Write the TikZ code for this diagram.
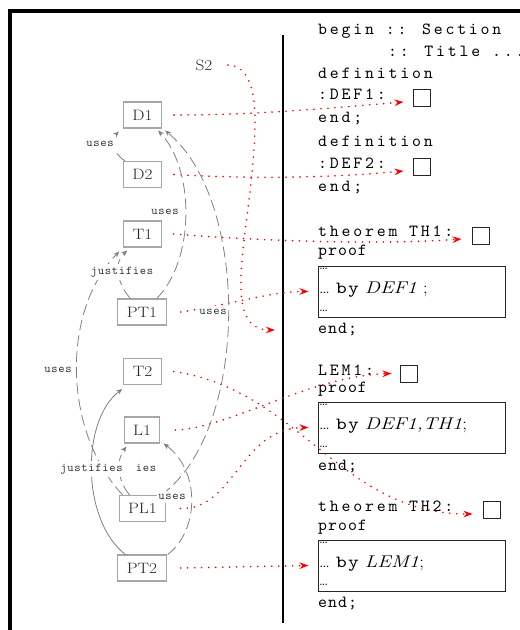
\documentclass[tikz,border=0pt]{standalone}
\usepackage{fontspec}
\usepackage{graphicx}
\usetikzlibrary{arrows.meta}
% spaced typewriter faces for the listing and the edge labels
\newfontfamily\hdfont{lmmono10-regular}[Extension=.otf,LetterSpace=16.5]
\newfontfamily\bdfont{lmmono10-regular}[Extension=.otf,LetterSpace=6]
\newfontfamily\lbfont{lmmono10-regular}[Extension=.otf,LetterSpace=6]
% slightly widened text
\newcommand\hwide[1]{\scalebox{1.15}[1]{#1}}
\newcommand\pwide[1]{\scalebox{1.2}[1]{#1}}
\newcommand\sdots{{\fontsize{14}{16}\selectfont\ldots}}

\begin{document}
\begin{tikzpicture}[x=1pt,y=-1pt,
  item/.style={draw=gray!70,line width=1.1pt,fill=white,text=black!85,
    font=\fontsize{15}{17}\selectfont,minimum height=26pt,inner xsep=9pt,inner ysep=0pt},
  code/.style={anchor=base west,inner sep=0pt,font=\hdfont\fontsize{17}{20}\selectfont},
  codebody/.style={anchor=base west,inner sep=0pt,font=\bdfont\fontsize{17}{20}\selectfont},
  inline/.style={anchor=base west,inner sep=0pt,font=\fontsize{17}{20}\selectfont},
  pbox/.style={draw=black!85,line width=0.9pt,minimum width=187pt,minimum height=51pt,inner sep=0pt},
  sq/.style={draw=black!85,line width=0.8pt,minimum size=17pt,inner sep=0pt},
  lab/.style={fill=white,inner xsep=1.5pt,inner ysep=3pt,text=black!80,
    font=\lbfont\fontsize{12}{14}\selectfont},
  rel/.style={draw=gray,line width=0.8pt,-{Stealth[length=6pt,width=5pt]}},
  reldashed/.style={rel,dash pattern=on 11pt off 5pt},
  refline/.style={draw=red,line width=1.8pt,dash pattern=on 0pt off 7pt,line cap=round,
    -{Stealth[length=9pt,width=6.5pt]}}]

\useasboundingbox (0,0) rectangle (520,630);

% outer frame and divider
\draw[line width=3.3pt] (10,645) -- (10,11) -- (535,11);
\coordinate (dtop) at (283,35);
\coordinate (dbot) at (283,623);
\draw[line width=2.2pt] (dtop) -- (dbot);

% dependency items
\node[item] (D1)  at (142.5,115)   {\hwide{D1}};
\node[item] (D2)  at (142.5,174.5) {\hwide{D2}};
\node[item] (T1)  at (142.5,234)   {\hwide{T1}};
\node[item] (PT1) at (142,312)     {\hwide{PT1}};
\node[item] (T2)  at (142.5,371.5) {\hwide{T2}};
\node[item] (L1)  at (142,430)     {\hwide{L1}};
\node[item] (PL1) at (142.5,508.5) {\hwide{PL1}};
\node[item] (PT2) at (142,568)     {\hwide{PT2}};
\node[font=\fontsize{15}{17}\selectfont,text=black!85] (S2) at (204,65) {\hwide{S2}};

% listing
\node[code] (c1) at (318,34) {begin :: Section};
\node[code] (c2) at (388,56) {:: Title ...};
\node[code] (c3) at (318,78) {definition};
\node[code] (c4) at (318,99) {:DEF1:};
\node[code] (c5) at (318,122) {end;};
\node[code] (c6) at (318,146) {definition};
\node[code] (c7) at (318,168) {:DEF2:};
\node[code] (c8) at (318,191) {end;};

\node[code] (c9) at (318,236) {theorem TH1:};
\node[codebody] (c10) at (318,255) {proof};
\node[pbox] (bx1) at (411.5,291.5) {};
\node[inline] (b1a) at (319,269) {\sdots};
\node[inline] (b1b) at (319,293) {\pwide{\sdots{} {\bdfont by} \textit{DEF1} ;}};
\node[inline] (b1c) at (319,311) {\sdots};
\node[codebody] (c11) at (318,333) {end;};

\node[code] (c12) at (318,375) {LEM1:};
\node[codebody] (c13) at (318,392) {proof};
\node[pbox] (bx2) at (411.5,427.5) {};
\node[inline] (b2a) at (319,405) {\sdots};
\node[inline] (b2b) at (319,429) {\pwide{\sdots{} {\bdfont by} \textit{DEF1,TH1};}};
\node[inline] (b2c) at (319,447) {\sdots};
\node[codebody] (c14) at (318,470) {end;};

\node[code] (c15) at (318,511) {theorem TH2:};
\node[codebody] (c16) at (318,530) {proof};
\node[pbox] (bx3) at (411.5,565.5) {};
\node[inline] (b3a) at (319,543) {\sdots};
\node[inline] (b3b) at (319,567) {\pwide{\sdots{} {\bdfont by} \textit{LEM1};}};
\node[inline] (b3c) at (319,585) {\sdots};
\node[codebody] (c17) at (318,607) {end;};

% check boxes
\node[sq] (q1) at (421.5,98) {};
\node[sq] (q2) at (421.5,167) {};
\node[sq] (q3) at (480.5,235.5) {};
\node[sq] (q4) at (409,373.5) {};
\node[sq] (q5) at (492,509.5) {};

% links from items to the listing
\draw[refline] ([xshift=12pt]D1.east) .. controls (260,115) and (330,108) .. ([xshift=-9pt,yshift=-4pt]q1.west);
\draw[refline] ([xshift=12pt]D2.east) .. controls (250,179) and (330,178) .. ([xshift=-9pt,yshift=-4pt]q2.west);
\draw[refline] ([xshift=12pt]T1.east) .. controls (260,241) and (380,245) .. ([xshift=-10pt,yshift=-3.5pt]q3.west);
\draw[refline] ([xshift=14pt]PT1.east) .. controls (230,305) and (270,291.5) .. ([xshift=-9pt]bx1.west);
\draw[refline] ([xshift=12pt]T2.east) .. controls (300,390) and (340,514) .. ([xshift=-10.5pt,yshift=-4.5pt]q5.west);
\draw[refline] ([xshift=15pt]L1.east) .. controls (230,428) and (310,376) .. ([xshift=-8.5pt]q4.west);
\draw[refline] ([xshift=14pt]PL1.east) .. controls (235,510) and (240,428) .. ([xshift=-9pt]bx2.west);
\draw[refline] ([xshift=14pt]PT2.east) -- ([xshift=-9pt]bx3.west);
\coordinate (s2end) at (275,330);
\draw[refline] ([xshift=12pt]S2.east) .. controls (250,65) and (255,95) .. (255,120)
  .. controls (255,220) and (215,330) .. (s2end);

% dependencies between items
\draw[reldashed] ([xshift=2pt]D2.north west) .. controls (112,152) and (110,140) .. ([xshift=-4pt,yshift=-3pt]D1.south west);
\draw[reldashed] ([xshift=13pt]PT1.north west) .. controls (116,282) and (114,262) .. ([xshift=4pt,yshift=-3pt]T1.south west);
\draw[reldashed] ([xshift=4pt]PL1.north west) .. controls (62,430) and (62,310) .. ([xshift=-4pt,yshift=-4pt]T1.south west);
\draw[reldashed] ([xshift=11pt]PL1.north west) .. controls (117,480) and (116,460) .. ([xshift=3pt,yshift=-3pt]L1.south west);
\draw[rel] ([xshift=8pt]PT2.north west) .. controls (81,520) and (81,420) .. ([xshift=-1pt,yshift=-4pt]T2.south west);
\draw[reldashed] ([xshift=1pt]PT2.north east) .. controls (200,530) and (200,470) .. ([xshift=3pt]L1.south east);
\draw[reldashed] ([xshift=-10pt]PT1.north east) .. controls (195,260) and (195,170) .. ([xshift=-4pt,yshift=-2pt]D1.south east);
\draw[reldashed] ([xshift=-5pt]PL1.north east) .. controls (250,430) and (250,200) .. ([xshift=3pt,yshift=-2pt]D1.south east);

% edge labels
\node[lab] (u1) at (100,144) {uses};
\node[lab] (j2) at (122,272) {justifies};
\node[lab] (u3) at (58,370) {uses};
\node[lab] (u7) at (165,212) {uses};
\node[lab] (u8) at (213,312) {uses};
\node[lab] (u6) at (172,497) {uses};
\node[lab] (j4) at (125,469) {justifies};
\node[lab,inner xsep=12pt] (j5) at (91.5,469) {justifies};
\end{tikzpicture}
\end{document}
